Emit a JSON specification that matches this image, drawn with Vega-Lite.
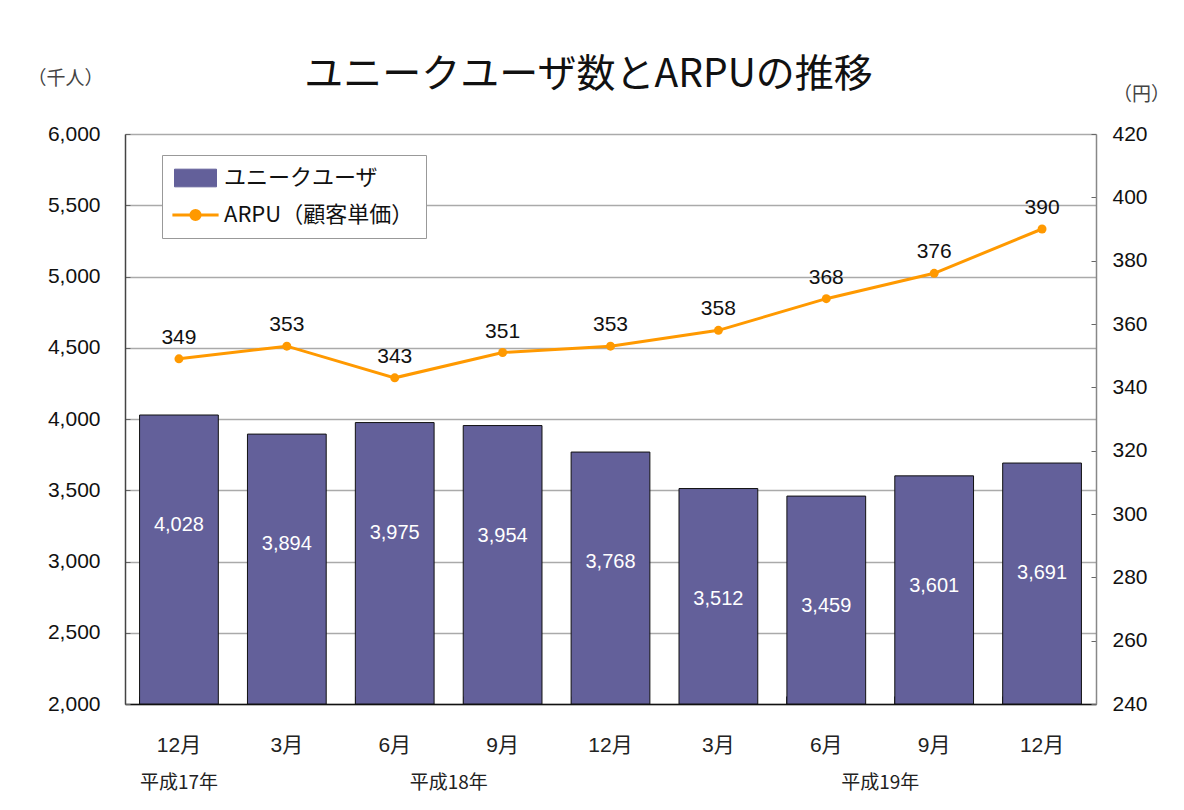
{
  "$schema": "https://vega.github.io/schema/vega-lite/v6.json",
  "width": 971,
  "height": 570,
  "autosize": {"type": "none"},
  "padding": {"left": 125, "top": 134, "right": 88, "bottom": 106},
  "background": "white",
  "title": {
    "text": "ユニークユーザ数とARPUの推移",
    "font": "Noto Sans CJK JP",
    "fontSize": 39,
    "fontWeight": "normal",
    "color": "#111",
    "anchor": "middle",
    "dx": -22,
    "offset": -26
  },
  "config": {
    "view": {"stroke": null},
    "font": "Liberation Sans, Noto Sans CJK JP"
  },
  "data": {
    "values": [
      {"key": "17年12月", "users": 4028, "arpu": 349},
      {"key": "18年3月", "users": 3894, "arpu": 353},
      {"key": "18年6月", "users": 3975, "arpu": 343},
      {"key": "18年9月", "users": 3954, "arpu": 351},
      {"key": "18年12月", "users": 3768, "arpu": 353},
      {"key": "19年3月", "users": 3512, "arpu": 358},
      {"key": "19年6月", "users": 3459, "arpu": 368},
      {"key": "19年9月", "users": 3601, "arpu": 376},
      {"key": "19年12月", "users": 3691, "arpu": 390}
    ]
  },
  "encoding": {
    "x": {
      "field": "key",
      "type": "nominal",
      "sort": null,
      "scale": {"paddingInner": 0.27, "paddingOuter": 0.135},
      "axis": {
        "title": null,
        "labelAngle": 0,
        "labelExpr": "split(datum.value,'年')[1]",
        "labelFont": "Liberation Sans, Noto Sans CJK JP",
        "labelFontSize": 21,
        "labelColor": "#222",
        "labelPadding": 38,
        "bandPosition": 0,
        "ticks": true,
        "tickSize": -8,
        "tickColor": "#333",
        "domainColor": "#111",
        "domainWidth": 1.5
      }
    }
  },
  "layer": [
    {
      "encoding": {
        "y": {
          "field": "users",
          "type": "quantitative",
          "scale": {"domain": [2000, 6000], "zero": false},
          "axis": {
            "title": "（千人）",
            "titleAngle": 0,
            "titleX": -60,
            "titleY": -56,
            "titleAlign": "center",
            "titleBaseline": "middle",
            "titleFont": "Noto Sans CJK JP",
            "titleFontSize": 19,
            "titleFontWeight": "normal",
            "titleColor": "#444",
            "values": [2000, 2500, 3000, 3500, 4000, 4500, 5000, 5500, 6000],
            "format": ",.0f",
            "labelFontSize": 21,
            "labelColor": "#111",
            "labelPadding": 30,
            "grid": true,
            "gridColor": "#aaaaaa",
            "gridWidth": 1.5,
            "tickSize": -5,
            "tickColor": "#666",
            "domainColor": "#444",
            "domainWidth": 1.5
          }
        }
      },
      "layer": [
        {
          "mark": {"type": "bar", "stroke": "#111", "strokeWidth": 1},
          "encoding": {
            "y2": {"datum": 2000},
            "color": {
              "datum": "ユニークユーザ",
              "type": "nominal",
              "scale": {
                "domain": ["ユニークユーザ", "ARPU（顧客単価）"],
                "range": ["#63609a", "#ff9900"]
              },
              "legend": {
                "orient": "none",
                "legendX": 37,
                "legendY": 21,
                "title": null,
                "direction": "vertical",
                "strokeColor": "#999",
                "fillColor": "white",
                "padding": 12,
                "labelFont": "Noto Sans CJK JP",
                "labelFontSize": 22,
                "labelColor": "#111",
                "labelLimit": 400,
                "rowPadding": 15,
                "symbolSize": 1764,
                "labelOffset": 28,
                "encode": {
                  "symbols": {
                    "update": {
                      "shape": {"signal": "datum.value === 'ユニークユーザ' ? 'M-0.5,-0.42L1.5,-0.42L1.5,0.42L-0.5,0.42Z' : 'M-0.6,0L1.6,0M0.28,0A0.22,0.22 0 1,0 0.72,0A0.22,0.22 0 1,0 0.28,0Z'"},
                      "stroke": {"signal": "datum.value === 'ユニークユーザ' ? '#111' : '#ff9900'"},
                      "strokeWidth": {"signal": "datum.value === 'ユニークユーザ' ? 1 : 3"},
                      "fill": {"signal": "datum.value === 'ユニークユーザ' ? '#63609a' : '#ff9900'"},
                      "opacity": {"value": 1},
                      "fillOpacity": {"value": 1}
                    }
                  }
                }
              }
            }
          }
        },
        {
          "mark": {"type": "text", "color": "white", "fontSize": 20, "dy": 110, "baseline": "middle"},
          "encoding": {
            "text": {"field": "users", "type": "quantitative", "format": ","}
          }
        }
      ]
    },
    {
      "encoding": {
        "y": {
          "field": "arpu",
          "type": "quantitative",
          "scale": {"domain": [240, 420], "zero": false},
          "axis": {
            "orient": "right",
            "title": "（円）",
            "titleAngle": 0,
            "titleX": 45,
            "titleY": -40,
            "titleAlign": "center",
            "titleBaseline": "middle",
            "titleFont": "Noto Sans CJK JP",
            "titleFontSize": 19,
            "titleFontWeight": "normal",
            "titleColor": "#444",
            "values": [240, 260, 280, 300, 320, 340, 360, 380, 400, 420],
            "labelFontSize": 21,
            "labelColor": "#111",
            "labelPadding": 21,
            "grid": false,
            "tickSize": -5,
            "tickColor": "#666",
            "domainColor": "#888",
            "domainWidth": 1.5
          }
        }
      },
      "layer": [
        {
          "mark": {"type": "line", "strokeWidth": 3, "point": {"filled": true, "size": 80}},
          "encoding": {
            "color": {
              "datum": "ARPU（顧客単価）",
              "type": "nominal",
              "legend": {
                "orient": "none",
                "legendX": 37,
                "legendY": 21,
                "title": null,
                "direction": "vertical",
                "strokeColor": "#999",
                "fillColor": "white",
                "padding": 12,
                "labelFont": "Noto Sans CJK JP",
                "labelFontSize": 22,
                "labelColor": "#111",
                "labelLimit": 400,
                "rowPadding": 15,
                "symbolSize": 1764,
                "labelOffset": 28,
                "encode": {
                  "symbols": {
                    "update": {
                      "shape": {"signal": "datum.value === 'ユニークユーザ' ? 'M-0.5,-0.42L1.5,-0.42L1.5,0.42L-0.5,0.42Z' : 'M-0.6,0L1.6,0M0.28,0A0.22,0.22 0 1,0 0.72,0A0.22,0.22 0 1,0 0.28,0Z'"},
                      "stroke": {"signal": "datum.value === 'ユニークユーザ' ? '#111' : '#ff9900'"},
                      "strokeWidth": {"signal": "datum.value === 'ユニークユーザ' ? 1 : 3"},
                      "fill": {"signal": "datum.value === 'ユニークユーザ' ? '#63609a' : '#ff9900'"},
                      "opacity": {"value": 1},
                      "fillOpacity": {"value": 1}
                    }
                  }
                }
              }
            }
          }
        },
        {
          "mark": {"type": "text", "color": "#111", "fontSize": 21, "dy": -21, "baseline": "middle"},
          "encoding": {
            "text": {"field": "arpu", "type": "quantitative"}
          }
        }
      ]
    },
    {
      "data": {"values": [{"key": "17年12月", "year": "平成17年"}]},
      "mark": {"type": "text", "color": "#222", "fontSize": 19, "font": "Noto Sans CJK JP", "dy": 79, "baseline": "middle"},
      "encoding": {
        "y": {"datum": 0, "scale": {"domain": [0, 1], "range": [570, 0]}, "axis": null},
        "text": {"field": "year", "type": "nominal"}
      }
    },
    {
      "data": {"values": [{"key": "18年6月", "year": "平成18年"}, {"key": "19年6月", "year": "平成19年"}]},
      "mark": {"type": "text", "color": "#222", "fontSize": 19, "font": "Noto Sans CJK JP", "dy": 79, "dx": 54, "baseline": "middle"},
      "encoding": {
        "y": {"datum": 0, "scale": {"domain": [0, 1], "range": [570, 0]}, "axis": null},
        "text": {"field": "year", "type": "nominal"}
      }
    }
  ],
  "resolve": {"scale": {"y": "independent"}}
}
